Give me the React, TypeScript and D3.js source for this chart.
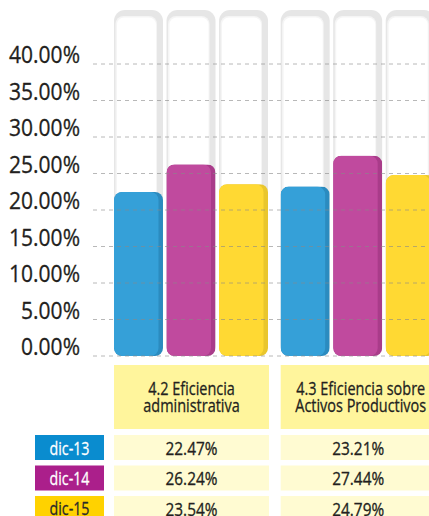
import React, { useRef, useEffect } from 'react';
import * as d3 from 'd3';

// chart data
const groups = ['4.2 Eficiencia administrativa', '4.3 Eficiencia sobre Activos Productivos'];
const groupLines = [['4.2 Eficiencia', 'administrativa'], ['4.3 Eficiencia sobre', 'Activos Productivos']];
const series = ['dic-13', 'dic-14', 'dic-15'];
const values13 = [22.47, 23.21];
const values14 = [26.24, 27.44];
const values15 = [23.54, 24.79];
const yTicks = [0, 5, 10, 15, 20, 25, 30, 35, 40];

const barColors = ['#35a0d8', '#c04a9e', '#ffd933'];
const barSide = ['#2b8bbf', '#a93c8a', '#e9c62d'];
const labelColors = ['#0a8ccf', '#ab1f8b', '#ffd200'];
const labelText = ['#ffffff', '#ffffff', '#2a2a2a'];

const FONT = "'Open Sans', 'Liberation Sans', sans-serif";

const App = () => {
    const ref = useRef<SVGSVGElement>(null);

    useEffect(() => {
        const svg = d3.select(ref.current);
        svg.selectAll('*').remove();

        const values = [values13, values14, values15];

        // horizontal squeeze so the sans font looks like the condensed original
        const squeeze = (sample: string, size: number, target: number) => {
            const t = svg.append('text').style('font-family', FONT).style('font-size', size + 'px').text(sample);
            const w = (t.node() as SVGTextElement).getComputedTextLength();
            t.remove();
            return w > 0 ? target / w : 0.8;
        };

        const addText = (parent: any, x: number, y: number, str: string, size: number, k: number, anchor: string, fill: string) =>
            parent.append('text')
                .attr('transform', `translate(${x},${y}) scale(${k},1)`)
                .attr('text-anchor', anchor)
                .style('font-family', FONT)
                .style('font-size', size + 'px')
                .attr('fill', fill)
                .attr('stroke', fill)
                .attr('stroke-width', 0.3)
                .text(str);

        const y = d3.scaleLinear().domain([0, 40]).range([356, 64]);
        const x0 = d3.scaleBand().domain(groups).range([114, 434.7]).paddingInner(0.076).paddingOuter(0);
        const x1 = d3.scaleBand().domain(series).range([0, x0.bandwidth()]).paddingInner(0.067);
        const bw = x1.bandwidth();

        const defs = svg.append('defs');

        // background tubes
        const tubes = svg.append('g');
        groups.forEach((g) => {
            series.forEach((s) => {
                const bx = x0(g)! + x1(s)!;
                tubes.append('rect')
                    .attr('x', bx).attr('y', 10)
                    .attr('width', bw).attr('height', y(0) - 10)
                    .attr('rx', 11)
                    .attr('fill', '#e6e6e6');
                tubes.append('rect')
                    .attr('x', bx + 1.5).attr('y', 16)
                    .attr('width', bw - 7.5).attr('height', y(0) - 16)
                    .attr('rx', 8)
                    .attr('fill', '#f5f5f5');
                tubes.append('rect')
                    .attr('x', bx + 3).attr('y', 17.5)
                    .attr('width', bw - 10).attr('height', y(0) - 17.5)
                    .attr('rx', 7)
                    .attr('fill', '#ffffff');
            });
        });

        // bars
        const bars = svg.append('g');
        groups.forEach((g, gi) => {
            series.forEach((s, si) => {
                const bx = x0(g)! + x1(s)!;
                const v = values[si][gi];
                const top = y(v);
                const id = `clip-${gi}-${si}`;
                defs.append('clipPath').attr('id', id)
                    .append('rect')
                    .attr('x', bx).attr('y', top)
                    .attr('width', bw).attr('height', y(0) - top)
                    .attr('rx', 8);
                const b = bars.append('g').attr('clip-path', `url(#${id})`);
                b.append('rect')
                    .attr('x', bx).attr('y', top)
                    .attr('width', bw).attr('height', y(0) - top)
                    .attr('fill', barSide[si]);
                b.append('rect')
                    .attr('x', bx).attr('y', top)
                    .attr('width', bw - 4.5).attr('height', y(0) - top)
                    .attr('rx', 8)
                    .attr('fill', barColors[si]);
            });
        });

        // grid lines on top
        svg.append('g')
            .selectAll('line')
            .data(yTicks)
            .enter()
            .append('line')
            .attr('x1', 93).attr('x2', 429)
            .attr('y1', (d) => y(d)).attr('y2', (d) => y(d))
            .attr('stroke', '#888')
            .attr('stroke-opacity', 0.6)
            .attr('stroke-width', 1)
            .attr('stroke-dasharray', '4,4');

        // y labels
        const kTick = squeeze('40.00%', 23, 71);
        const yAxis = svg.append('g');
        yTicks.forEach((d) => {
            addText(yAxis, 80, y(d) - 1, d3.format('.2f')(d) + '%', 23, kTick, 'end', '#231f20');
        });

        // table header
        const table = svg.append('g');
        const kHead = squeeze('Activos Productivos', 18, 131);
        groups.forEach((g, gi) => {
            const cx = x0(g)!;
            table.append('rect')
                .attr('x', cx).attr('y', 365)
                .attr('width', x0.bandwidth() + 1).attr('height', 64)
                .attr('fill', '#fff59c');
            groupLines[gi].forEach((line, li) => {
                addText(table, cx + (x0.bandwidth() + 1) / 2 + (gi === 1 ? 2.5 : 0), 395 + li * 16.5, line, 18, kHead, 'middle', '#231f20');
            });
        });

        // table rows
        const rowY = d3.scaleBand().domain(series).range([435, 521]).paddingInner(0.18);
        const kVal = squeeze('22.47%', 18, 52);
        const kLab = squeeze('dic-13', 19, 40);
        series.forEach((s, si) => {
            const ry = rowY(s)!;
            const rh = rowY.bandwidth();
            table.append('rect')
                .attr('x', 35).attr('y', ry)
                .attr('width', 69).attr('height', rh)
                .attr('fill', labelColors[si]);
            addText(table, 69.5, ry + 19.5, s, 19, kLab, 'middle', labelText[si]);
            groups.forEach((g, gi) => {
                const cx = x0(g)!;
                table.append('rect')
                    .attr('x', cx).attr('y', ry)
                    .attr('width', x0.bandwidth() + 1).attr('height', rh)
                    .attr('fill', '#fffbd2');
                addText(table, cx + (x0.bandwidth() + 1) / 2, ry + 20, d3.format('.2f')(values[si][gi]) + '%', 18, kVal, 'middle', '#231f20');
            });
        });
    }, []);

    return (
        <svg ref={ref} width={429} height={516} style={{ position: 'absolute', left: 0, top: 0, background: '#fff' }} />
    );
};

export default App;
